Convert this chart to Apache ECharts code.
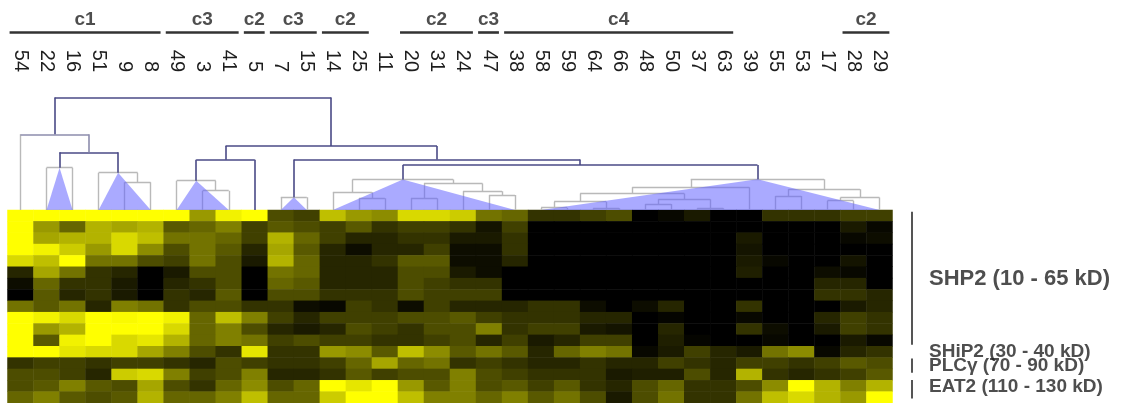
<!DOCTYPE html>
<html><head><meta charset="utf-8">
<script src="https://cdn.jsdelivr.net/npm/echarts@6.0.0/dist/echarts.min.js"></script>
<style>html,body{margin:0;padding:0;background:#fff}#c{width:1128px;height:403px}</style>
</head><body><div id="c"></div><script>
// ---------------- DATA ----------------
const samples = ['54','22','16','51','9','8','49','3','41','5','7','15','14','25','11','20','31','24','47','38','58','59','64','66','48','50','37','63','39','55','53','17','28','29'];

const groupNames = ['c1','c3','c2','c3','c2','c2','c3','c4','c2'];
const groupStart = [0, 6, 9, 10, 12, 15, 18, 19, 32];
const groupEnd   = [5, 8, 9, 11, 13, 17, 18, 27, 33];

const rowGroupNames = ['SHP2 (10 - 65 kD)', 'SHiP2 (30 - 40 kD)', 'PLCγ (70 - 90 kD)', 'EAT2 (110 - 130 kD)'];

// intensity 0 (black) .. 10 (yellow), one array per row, columns in sample order
const shp2 = [
  [10,10,10,10,10,10,10,6,9.5,10,3, 2.5,7.5,6,5.5,8.5,8.5,8,4.5,4,2,2, 2.5,3,0,0.3,1,0,0,2,2,2,2.5,2.5],
  [10,6,4,7,6.5,7,3.5,4,5,2.5,3.5, 3,2.5,3.5,2,2.5,2.5,2,0.8,2.5,0,0, 0,0,0,0,0,0,0,0,0,0,1,0.3],
  [10,6.5,7,7,8.5,7.5,4.5,4.5,4,2.5,7, 4,2.5,1.5,1.5,2,2,1,1,2,0,0, 0,0,0,0,0,0,1,0,0,0,0.3,0.5],
  [10,9.5,8,6,8.5,5.5,3,4.5,3.5,1.5,6.5, 3.5,1.5,0.5,1.5,1.5,2.5,0.5,0.5,2,0,0, 0,0,0,0,0,0,0.8,0,0,0,0,0],
  [8.5,7.5,10,4.5,4.5,3,2.5,4.5,3,1,7, 4,1.5,1.5,2,3.5,3.5,0.5,0.5,1.5,0,0, 0,0,0,0,0,0,1,0.3,0,0,0.8,0],
  [1.5,6.5,4.5,2,1.5,0,1,3,3,0,4.5, 4,1.5,1.5,1.5,3,3,1,0.5,0,0,0, 0,0,0,0,0,0,1.2,0,0,0.5,0.3,0],
  [0.5,4,2,2,1,0,1.5,2,3,0,4, 3.5,1.5,1.5,1.5,3,2.5,2,2,0,0,0, 0,0,0,0,0,0,0,0,0,1.5,1.5,0],
  [0,3.5,1.5,2,1,0,2,1.5,3.5,0,3, 3,2,2,2,3,2.5,2.5,2.5,0,0,0, 0,0,0,0,0,0,0,0,0,2,2,1.5],
  [4.5,3.5,4.5,1.5,5,4.5,2,3,3,2,2, 0.5,0.3,2.5,2,0.5,2.5,1.5,1.5,1.5,2,2, 0.5,0,0.5,1.5,0,0,2,0,0,0,1,1.5],
  [10,9.5,8.5,10,9.8,10,9.5,4,7.5,5,2.5, 1.5,2.5,2.5,2.5,3,3,3.5,2.5,2,2,2, 1.5,1.5,0,0.2,0,0,0.3,0,0,1.5,2.5,2],
  [10,6,7,10,10,10,8.5,4,5,3,1.5, 1,1.5,3,2.5,2,3,3,5,2,2.5,2.5, 1,0.8,0,1.5,0,0,2,0.5,0,1,2.5,2],
  [10,3.5,9.5,10,8.5,9,7,4,5,4.5,2.5, 3,2.5,2.5,2,2,2.5,3,1.5,2.5,1,1.5, 2.5,2.5,0,1.2,0.2,0,0,0.3,0,0,1,0.3]
];
const ship2 = [
  [10,10,9,8.5,8.5,6.5,5,3,2,9,2, 2,6,5.5,3.5,7.5,5.5,3.5,4.5,3.5,1.5,4, 5,4.5,0.3,1,2.5,1.5,1,4.5,5.5,0.3,1.5,2]
];
const plcg = [
  [2,2.5,2.5,2,2.5,2.5,2,1.5,3,2.5,2, 2,2.5,4,6.5,4,4.5,2,2.5,2,1.5,1.5, 2,1.5,1.5,2.5,2,1.5,2.5,2.5,2,2.5,3.5,3],
  [3,3,2.5,1.5,8,8.5,5,2.5,3,5,1.5, 1.5,2,3.5,2.5,3,3,5,3,2.5,2,2, 2,1,1.2,1.2,3,1.5,7,2,1.5,2,2.5,3.5]
];
const eat2 = [
  [3,3.5,5,3.5,3,6.5,3,2,4,5.5,3, 4,10,9,10,6,3.5,5,3,3.5,2.5,3.5, 2,1.5,3,4,2,2,3,5.5,10,7,5,7],
  [4,5,3.5,3,3.5,7,4,4,5,7.5,4, 4,8,10,10,7.5,5,5,4,5,3.5,4.5, 3,1,3,4.5,2,2,4.5,7.5,8.5,7,6,10]
];

// dendrogram: leaves 0..33, merge i gets node id 34+i
const mergeLeft   = [1, 4, 3, 34, 0, 7, 6, 40, 10, 13, 12, 15, 18, 17, 45, 44, 20, 22, 50, 24, 26, 53, 52, 56, 29, 31, 59, 58, 57, 49, 42, 41, 38];
const mergeRight  = [2, 5, 35, 36, 37, 8, 39, 9, 11, 14, 43, 16, 19, 46, 47, 48, 21, 23, 51, 25, 27, 54, 55, 28, 30, 32, 33, 60, 61, 62, 63, 64, 65];
const mergeHeight = [42.3, 27.7, 37.3, 57.7, 75.7, 19.3, 29.3, 50.3, 12.7, 11.7, 17.7, 11.7, 15, 18.7, 26.5, 30.5, 2.3, 1.7, 8.3, 6, 1.7, 10.7, 16.5, 22.7, 14, 9.3, 12.5, 20.7, 30.7, 45, 50.5, 64, 112.5];
const collapsedMerges = [0, 2, 6, 8, 15, 28];

// ---------------- LAYOUT / STYLE ----------------
const FONT = "'Liberation Sans', Arial, Helvetica, sans-serif";
const NAVY = '#4a4a86', MID = '#8c8cac', GREY = '#b9b9b9';
const N = samples.length;
const rows = [].concat(shp2, ship2, plcg, eat2);
const nRows = rows.length;

const heatData = [];
rows.forEach((r, ri) => r.forEach((v, ci) => heatData.push([ci, ri, v])));

// dendrogram geometry
const nodeX = [], nodeH = [], nodeMin = [], nodeMax = [];
for (let i = 0; i < N; i++) { nodeX[i] = i + 0.5; nodeH[i] = 0; nodeMin[i] = i + 0.5; nodeMax[i] = i + 0.5; }
mergeLeft.forEach((a, i) => {
  const b = mergeRight[i], id = N + i;
  nodeX[id] = (nodeX[a] + nodeX[b]) / 2;
  nodeH[id] = mergeHeight[i];
  nodeMin[id] = Math.min(nodeMin[a], nodeMin[b]);
  nodeMax[id] = Math.max(nodeMax[a], nodeMax[b]);
});
// grey = inside a collapsed subtree
const isGrey = new Array(mergeLeft.length).fill(false);
function markGrey(id) { if (id < N) return; isGrey[id - N] = true; markGrey(mergeLeft[id - N]); markGrey(mergeRight[id - N]); }
collapsedMerges.forEach(m => markGrey(N + m));

const greySegs = [], darkSegs = [];
mergeLeft.forEach((a, i) => {
  const b = mergeRight[i], h = mergeHeight[i];
  let cH = isGrey[i] ? GREY : NAVY, cL = cH, cR = cH;
  if (i === 4) { cH = MID; cR = MID; cL = GREY; }
  const segs = [
    [[nodeX[a], nodeH[a]], [nodeX[a], h], cL],
    [[nodeX[a], h], [nodeX[b], h], cH],
    [[nodeX[b], h], [nodeX[b], nodeH[b]], cR]
  ];
  segs.forEach(s => {
    const item = { coords: [s[0], s[1]], lineStyle: { color: s[2] } };
    (s[2] === GREY ? greySegs : darkSegs).push(item);
  });
});
const triData = collapsedMerges.map(m => { const id = N + m; return [nodeMin[id], nodeMax[id], nodeX[id], nodeH[id]]; });

// group bars
const groupLineData = groupNames.map((g, i) => ({ coords: [[groupStart[i] + 0.08, 0], [groupEnd[i] + 1 - 0.12, 0]] }));
const groupLabelData = groupNames.map((g, i) => ({ name: g, value: [(groupStart[i] + 0.08 + groupEnd[i] + 1 - 0.12) / 2, 0] }));

// row group brackets / labels
const bracketSpans = [[0.15, 11.88], null, [13.07, 14.33], [14.98, 16.6]];
const rowLabelAt = [6.05, 12.45, 13.72, 15.6];
const bracketData = bracketSpans.filter(s => s).map(s => ({ coords: [[0.28, s[0]], [0.28, s[1]]] }));
const rowLabelData = rowGroupNames.map((n, i) => ({
  name: n, value: [1, rowLabelAt[i]],
  label: { fontSize: i === 0 ? 22 : 19 }
}));

const hiddenVal = (extra) => Object.assign({ type: 'value', show: false, splitLine: { show: false } }, extra);
const GL = 7.5, GW = 885;

const option = {
  animation: false,
  backgroundColor: '#ffffff',
  grid: [
    { left: GL, width: GW, top: 210, height: 193, containLabel: false, outerBoundsMode: 'none' },
    { left: GL, width: GW, top: 90, height: 120, containLabel: false, outerBoundsMode: 'none' },
    { left: GL, width: GW, top: 0, height: 64.6, containLabel: false, outerBoundsMode: 'none' },
    { left: 905, width: 24, top: 210, height: 193, containLabel: false, outerBoundsMode: 'none' }
  ],
  xAxis: [
    { type: 'category', gridIndex: 0, data: samples, position: 'top',
      axisLine: { show: false }, axisTick: { show: false }, splitLine: { show: false },
      axisLabel: { interval: 0, rotate: 90, margin: 138, fontSize: 20, color: '#1e1e1e', fontFamily: FONT } },
    hiddenVal({ gridIndex: 1, min: 0, max: N }),
    hiddenVal({ gridIndex: 2, min: 0, max: N }),
    hiddenVal({ gridIndex: 3, min: 0, max: 1 })
  ],
  yAxis: [
    { type: 'category', gridIndex: 0, data: rows.map((r, i) => 'r' + i), inverse: true, show: false },
    hiddenVal({ gridIndex: 1, min: 0, max: 120 }),
    hiddenVal({ gridIndex: 2, min: -1, max: 1 }),
    hiddenVal({ gridIndex: 3, min: 0, max: nRows, inverse: true })
  ],
  visualMap: { show: false, type: 'continuous', min: 0, max: 10, dimension: 2, seriesIndex: 0,
    inRange: { color: ['#000000', '#ffff00'] } },
  series: [
    { type: 'heatmap', xAxisIndex: 0, yAxisIndex: 0, data: heatData, progressive: 0,
      itemStyle: { borderWidth: 0 }, emphasis: { disabled: true } },
    { type: 'lines', coordinateSystem: 'cartesian2d', xAxisIndex: 1, yAxisIndex: 1, z: 3,
      lineStyle: { width: 1.4, opacity: 1 }, data: greySegs, silent: true },
    { type: 'custom', coordinateSystem: 'cartesian2d', xAxisIndex: 1, yAxisIndex: 1, z: 4, data: triData, silent: true,
      renderItem: function (params, api) {
        const p1 = api.coord([api.value(0), 0]);
        const p2 = api.coord([api.value(2), api.value(3)]);
        const p3 = api.coord([api.value(1), 0]);
        return { type: 'polygon', shape: { points: [p1, p2, p3] }, style: { fill: 'rgba(100,100,255,0.55)', stroke: null } };
      } },
    { type: 'lines', coordinateSystem: 'cartesian2d', xAxisIndex: 1, yAxisIndex: 1, z: 5,
      lineStyle: { width: 1.6, opacity: 1 }, data: darkSegs, silent: true },
    { type: 'lines', coordinateSystem: 'cartesian2d', xAxisIndex: 2, yAxisIndex: 2, z: 3,
      lineStyle: { width: 2.6, color: '#333333', opacity: 1 }, data: groupLineData, silent: true },
    { type: 'scatter', xAxisIndex: 2, yAxisIndex: 2, symbolSize: 0, clip: false, silent: true, z: 6,
      data: groupLabelData,
      label: { show: true, position: 'top', distance: 3, formatter: '{b}', fontSize: 19, fontWeight: 'bold', color: '#222', fontFamily: FONT } },
    { type: 'lines', coordinateSystem: 'cartesian2d', xAxisIndex: 3, yAxisIndex: 3, z: 3,
      lineStyle: { width: 2, color: '#555', opacity: 1 }, data: bracketData, silent: true },
    { type: 'scatter', xAxisIndex: 3, yAxisIndex: 3, symbolSize: 0, clip: false, silent: true, z: 6,
      data: rowLabelData,
      label: { show: true, position: 'right', distance: 0, formatter: '{b}', fontWeight: 'bold', color: '#222', fontFamily: FONT } }
  ]
};

const chart = echarts.init(document.getElementById('c'), null, { renderer: 'canvas' });
chart.setOption(option);
</script></body></html>
